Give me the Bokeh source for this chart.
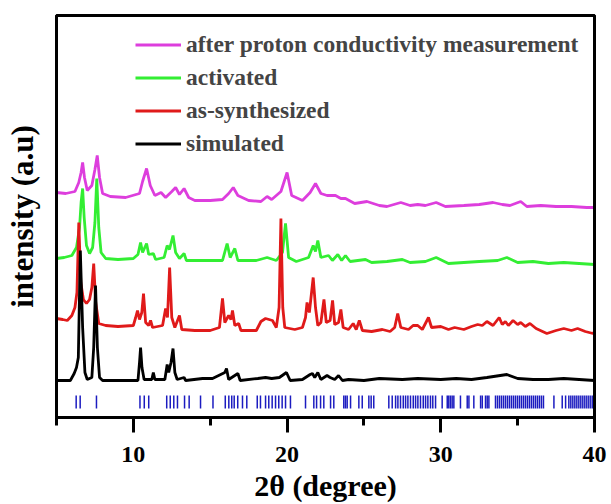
from bokeh.plotting import figure
from bokeh.models import Range1d, SingleIntervalTicker, FixedTicker, Legend, LegendItem, LinearAxis
from bokeh.embed import file_html
from bokeh.resources import INLINE

# ---------------- data (2theta, intensity in arbitrary units) ----------------
after_x = [5.0, 5.6, 6.2, 6.45, 6.6, 6.7, 6.82, 7.0, 7.3, 7.5, 7.65, 7.8, 8.0, 8.5, 9.5,
           10.4, 10.6, 10.86, 11.1, 11.4, 11.8, 12.1, 12.5, 12.75, 13.0, 13.3, 13.6, 14.0,
           15.0, 15.8, 16.2, 16.5, 16.8, 17.5, 18.3, 18.7, 19.0, 19.6, 20.0, 20.3, 21.0,
           21.5, 21.85, 22.2, 22.6, 23.15, 23.5, 23.8, 24.4, 25.2, 26.0, 26.5, 27.4, 28.0,
           28.5, 29.0, 29.7, 30.3, 31.5, 32.5, 33.4, 34.0, 34.5, 35.2, 35.6, 36.5, 37.5,
           38.5, 39.5, 40.0]
after_y = [225, 224, 226, 235, 245, 255, 240, 227, 232, 248, 262, 240, 224, 221, 220,
           224, 236, 249, 232, 222, 225, 220, 226, 230, 223, 229, 220, 217,
           217, 218, 224, 230, 222, 217, 216, 221, 218, 226, 245, 222, 217,
           225, 234, 224, 222, 222, 219, 219, 214, 216, 212, 211, 215, 212,
           213, 212, 215, 211, 212, 213, 215, 213, 212, 216, 211, 212, 211,
           211, 210, 210]

act_x = [5.0, 5.5, 6.0, 6.3, 6.5, 6.6, 6.7, 6.8, 6.95, 7.15, 7.35, 7.5, 7.62, 7.75, 7.9,
         8.2, 9.0, 10.0, 10.3, 10.47, 10.6, 10.86, 11.0, 11.3, 11.45, 12.0, 12.2, 12.35,
         12.58, 12.75, 13.0, 13.3, 13.45, 14.5, 15.8, 16.1, 16.3, 16.6, 16.8, 18.0, 18.7,
         19.3, 19.7, 19.9, 20.1, 20.6, 21.4, 21.7, 21.85, 22.0, 22.2, 22.7, 22.95, 23.3,
         23.55, 23.8, 24.1, 25.1, 25.5, 26.5, 27.5, 28.0, 29.0, 29.7, 30.5, 31.5, 32.5,
         33.7, 34.3, 35.0, 36.0, 37.0, 38.0, 39.0, 40.0]
act_y = [159, 160, 162, 170, 190, 215, 229, 200, 172, 164, 170, 195, 239, 190, 165,
         159, 158, 159, 163, 175, 165, 174, 163, 164, 158, 160, 172, 168,
         182, 165, 159, 164, 157, 157, 157, 174, 160, 169, 157, 157, 160,
         157, 165, 194, 160, 156, 160, 172, 166, 177, 160, 162, 157, 163,
         157, 162, 156, 158, 155, 156, 158, 155, 156, 160, 154, 155, 156,
         157, 160, 155, 156, 154, 155, 154, 153]

syn_x = [5.0, 5.4, 5.7, 6.0, 6.2, 6.33, 6.45, 6.58, 6.75, 6.95, 7.15, 7.3, 7.42, 7.55,
         7.75, 8.2, 9.0, 10.0, 10.15, 10.27, 10.4, 10.55, 10.66, 10.8, 11.0, 11.12, 11.25,
         11.9, 12.1, 12.22, 12.36, 12.5, 12.7, 13.0, 13.15, 14.0, 15.0, 15.6, 15.8, 15.95,
         16.2, 16.35, 16.45, 16.6, 16.85, 17.0, 18.0, 18.3, 18.6, 19.05, 19.3, 19.48, 19.6,
         19.72, 19.85, 20.5, 21.0, 21.2, 21.3, 21.45, 21.7, 21.85, 22.0, 22.2, 22.4, 22.55,
         22.8, 22.96, 23.1, 23.35, 23.5, 23.65, 24.0, 24.3, 24.5, 24.7, 24.9, 25.5, 26.2,
         26.7, 27.0, 27.2, 27.4, 27.9, 28.2, 28.5, 28.8, 29.2, 29.4, 30.0, 30.5, 30.9,
         31.5, 32.0, 32.4, 32.7, 33.0, 33.4, 33.8, 34.0, 34.2, 34.4, 34.7, 35.0, 35.2,
         35.5, 35.8, 36.2, 36.9, 37.5, 38.0, 38.5, 38.9, 39.4, 39.9, 40.0]
syn_y = [99, 98, 97, 102, 110, 125, 195, 135, 118, 114, 118, 130, 154, 115,
         94, 92, 91, 92, 100, 107, 98, 105, 124, 95, 92, 97, 90,
         92, 109, 100, 150, 100, 90, 102, 88, 87, 87, 90, 119, 95,
         102, 98, 107, 92, 94, 87, 87, 96, 99, 97, 90, 110, 199,
         110, 90, 88, 90, 100, 115, 105, 140, 110, 92, 95, 118, 95,
         97, 117, 93, 95, 108, 90, 88, 94, 88, 97, 87, 86, 88,
         86, 90, 104, 90, 88, 92, 92, 88, 100, 90, 91, 88, 90,
         88, 91, 93, 92, 96, 92, 100, 93, 96, 92, 97, 93, 95,
         91, 94, 89, 84, 87, 89, 87, 89, 86, 84, 86]

sim_x = [5.0, 5.9, 6.15, 6.3, 6.42, 6.55, 6.7, 6.85, 7.0, 7.3, 7.42, 7.54, 7.66, 7.8, 8.0,
         10.3, 10.4, 10.47, 10.56, 10.7, 11.2, 11.3, 11.4, 12.05, 12.2, 12.3, 12.45, 12.58,
         12.7, 12.85, 13.3, 13.4, 14.5, 15.15, 15.95, 16.06, 16.2, 16.8, 16.95, 18.1, 18.6,
         19.0, 19.5, 19.96, 20.2, 21.0, 21.5, 21.65, 21.8, 22.0, 22.2, 22.6, 22.8, 23.1,
         23.35, 23.6, 24.0, 25.0, 26.0, 27.5, 28.5, 30.0, 31.0, 32.0, 33.0, 34.3, 35.0,
         36.0, 37.0, 38.0, 40.0]
sim_y = [37, 37, 44, 50, 60, 167, 90, 45, 38, 40, 70, 132, 70, 40, 37,
         37, 55, 70, 50, 38, 38, 45, 38, 38, 53, 45, 55, 69,
         45, 38, 40, 37, 39, 39, 45, 49, 38, 44, 37, 39, 40,
         39, 40, 45, 37, 38, 43, 44, 40, 45, 38, 42, 40, 38,
         42, 37, 38, 37, 39, 38, 39, 38, 39, 38, 40, 43, 39,
         38, 38, 39, 37]

refl_pos = [6.28, 6.54, 7.6, 10.43, 10.71, 11.0, 12.17, 12.4, 12.63, 12.87, 13.33, 13.63,
            14.37, 15.18, 15.98, 16.21, 16.4, 16.56, 16.79, 17.1, 17.38, 18.06, 18.27,
            18.6, 18.81, 19.03, 19.25, 19.46, 19.68, 19.9, 20.22, 21.2, 21.74, 21.92,
            22.18, 22.39, 22.83, 23.04, 23.69, 23.8, 23.91, 24.13, 24.67, 24.89, 25.32,
            25.47, 25.64, 26.62, 26.84, 27.06, 27.21, 27.38, 27.56, 27.71, 27.86, 28.03,
            28.21, 28.36, 28.51, 28.68, 28.86, 29.01, 29.16, 29.33, 29.48, 29.66, 30.09,
            30.42, 30.52, 30.63, 30.74, 30.85, 31.28, 31.72, 31.83, 32.15, 32.59, 32.7,
            32.91, 33.02, 33.13, 33.56, 33.69, 33.82, 33.95, 34.08, 34.21, 34.34, 34.47,
            34.6, 34.73, 34.86, 34.99, 35.12, 35.25, 35.38, 35.51, 35.64, 35.77, 35.9,
            36.03, 36.16, 36.29, 36.42, 36.55, 36.68, 37.36, 37.9, 38.12, 38.33, 38.46,
            38.59, 38.72, 38.85, 38.98, 39.11, 39.24, 39.37, 39.5, 39.63, 39.76, 39.89]

series_labels = ["after proton conductivity measurement", "activated",
                 "as-synthesized", "simulated"]

# ---------------- styling ----------------
FONT = "Liberation Serif"
COLORS = ["#dd3edd", "#33ee33", "#e01a1a", "#000000"]
TICK_LO, TICK_HI = 9, 22

p = figure(output_backend="svg", toolbar_location=None,
           x_range=Range1d(5, 40), y_range=Range1d(0, 402),
           frame_width=538, frame_height=402,
           min_border_left=56, min_border_right=17, min_border_top=15, min_border_bottom=80)
p.background_fill_color = "white"
p.border_fill_color = "white"
p.outline_line_color = "black"
p.outline_line_width = 3
p.grid.visible = False

ax = p.xaxis[0]
ax.ticker = SingleIntervalTicker(interval=10, num_minor_ticks=2)
ax.axis_line_width = 3
ax.major_tick_line_width = 3
ax.minor_tick_line_width = 3
ax.major_tick_out = 15
ax.major_tick_in = 0
ax.minor_tick_out = 8
ax.minor_tick_in = 0
ax.major_label_text_font = FONT
ax.major_label_text_font_style = "bold"
ax.major_label_text_font_size = "24px"
ax.major_label_text_color = "black"
ax.major_label_standoff = 14
ax.axis_label = "2\u03b8 (degree)"
ax.axis_label_text_font = FONT
ax.axis_label_text_font_style = "bold"
ax.axis_label_text_font_size = "30px"
ax.axis_label_text_color = "black"
ax.axis_label_standoff = 4

ay = p.yaxis[0]
ay.ticker = FixedTicker(ticks=[])
ay.major_tick_out = 0
ay.major_tick_in = 0
ay.minor_tick_out = 0
ay.minor_tick_in = 0
ay.major_label_standoff = 0
ay.major_label_text_font_size = "0px"
ay.axis_line_width = 3
ay.axis_label = "intensity (a.u)"
ay.axis_label_text_font = FONT
ay.axis_label_text_font_style = "bold"
ay.axis_label_text_font_size = "31px"
ay.axis_label_text_color = "black"
ay.axis_label_standoff = 17

# plain frame lines on top and right
for side in ("above", "right"):
    fa = LinearAxis(ticker=FixedTicker(ticks=[]), major_tick_out=0, major_tick_in=0,
                    minor_tick_out=0, minor_tick_in=0, major_label_standoff=0,
                    major_label_text_font_size="0px", axis_line_width=3,
                    axis_line_color="black")
    p.add_layout(fa, side)

renderers = []
for xs, ys, c in [(after_x, after_y, COLORS[0]), (act_x, act_y, COLORS[1]),
                  (syn_x, syn_y, COLORS[2]), (sim_x, sim_y, COLORS[3])]:
    r = p.line(xs, ys, line_color=c, line_width=2.8)
    renderers.append(r)

p.segment(x0=refl_pos, y0=[TICK_LO] * len(refl_pos), x1=refl_pos, y1=[TICK_HI] * len(refl_pos),
          line_color="#1c1cc0", line_width=1.5)

legend = Legend(items=[LegendItem(label=l, renderers=[r]) for l, r in zip(series_labels, renderers)],
                location=(79, 257), padding=0, spacing=0, margin=0,
                glyph_width=46, glyph_height=33, label_height=33, label_standoff=5,
                label_text_font=FONT, label_text_font_style="bold", label_text_font_size="23.5px",
                border_line_color=None, background_fill_alpha=0)
p.add_layout(legend)

open("out.html", "w").write(file_html(p, INLINE))
